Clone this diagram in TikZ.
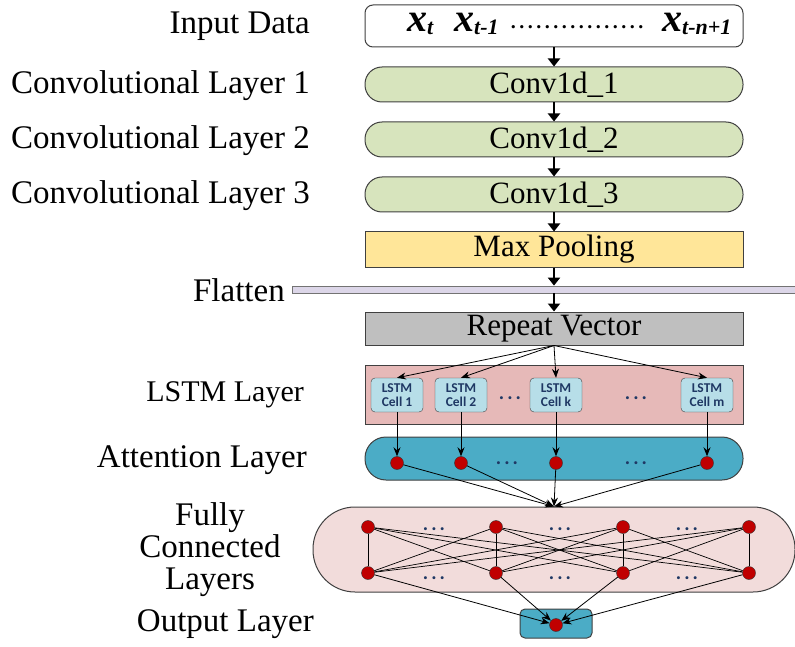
\documentclass[tikz,border=0pt]{standalone}
\usepackage{amsmath}
\usepackage{fontspec}
\setmainfont{Liberation Serif}
\newfontfamily\cellfont{Carlito}
\usetikzlibrary{arrows.meta,positioning}
\definecolor{boxline}{HTML}{404040}
\definecolor{convgreen}{HTML}{D7E4BD}
\definecolor{poolyellow}{HTML}{FFE699}
\definecolor{repeatgray}{HTML}{BFBFBF}
\definecolor{lstmpink}{HTML}{E6B9B8}
\definecolor{cellblue}{HTML}{B7DEE8}
\definecolor{cellnavy}{HTML}{1F3864}
\definecolor{attteal}{HTML}{4BACC6}
\definecolor{fcpink}{HTML}{F2DCDB}
\definecolor{neuronred}{HTML}{C00000}
\definecolor{flattenfill}{HTML}{DCD6E8}
\tikzset{
  layer/.style={draw=boxline, line width=1pt, minimum width=378pt, minimum height=35pt,
    inner sep=0pt, font=\fontsize{31}{33}\selectfont},
  layer pill/.style={layer, rounded corners=17pt},
  side label/.style={anchor=east, inner sep=0pt, font=\fontsize{33}{32}\selectfont},
  seq var/.style={anchor=base west, inner sep=0pt, font=\fontsize{40}{40}\selectfont\bfseries\itshape},
  cell/.style={draw=boxline, fill=cellblue, rounded corners=4pt, minimum width=52pt,
    minimum height=34pt, inner sep=0pt, align=center, text=cellnavy,
    font=\cellfont\bfseries\fontsize{13.5}{14}\selectfont},
  neuron/.style={circle, draw=black!80, fill=neuronred, minimum size=13pt, inner sep=0pt},
  gap dots/.style={inner sep=0pt, text=cellnavy, font=\cellfont\bfseries\fontsize{20}{20}\selectfont},
  flow/.style={-{Triangle[width=12pt,length=8pt]}, line width=2.5pt},
  link/.style={-{Stealth[length=9pt,width=7pt]}, line width=0.8pt},
  fc link/.style={line width=0.7pt},
}
\newcommand\gapdots{.\kern3pt.\kern3pt.}
\newcommand\seqsub[1]{\raisebox{-3pt}{\fontsize{22}{22}\selectfont #1}}
\begin{document}
\begin{tikzpicture}[x=1pt, y=-1pt]
    \useasboundingbox (0,0) rectangle (795,647);

    % ------- layers -------
    \node[layer, fill=white, rounded corners=8pt, minimum height=42pt] (input) at (554,26) {};
    \node[layer pill, fill=convgreen] (conv1) at (554,84.5)  {Conv1d\_1};
    \node[layer pill, fill=convgreen] (conv2) at (554,139.5) {Conv1d\_2};
    \node[layer pill, fill=convgreen] (conv3) at (554,194.5) {Conv1d\_3};
    \node[layer, fill=poolyellow] (pool) at (554,249.5) {Max Pooling};
    \node[draw=black!55, fill=flattenfill, line width=0.8pt, minimum width=503pt,
          minimum height=7pt, inner sep=0pt] (flatten) at (543.5,289.5) {};
    \node[layer, fill=repeatgray, minimum height=33pt] (repeat) at (554,328.5) {Repeat Vector};
    \node[layer, fill=lstmpink, minimum height=59pt] (lstm) at (554,394.5) {};
    \node[layer, fill=attteal, minimum height=43pt, rounded corners=21pt] (att) at (554,458.5) {};
    \node[layer, fill=fcpink, minimum width=482pt, minimum height=85pt, rounded corners=42pt] (fc) at (554,549.5) {};
    \node[draw=boxline, line width=1pt, fill=attteal, rounded corners=5pt,
          minimum width=72pt, minimum height=29pt] (outbox) at (556,623.5) {};

    % ------- input sequence -------
    \node[seq var] (xt)  at (407,32) {x\seqsub{t}};
    \node[seq var] (xt1) at (454,32) {x\seqsub{t-1}};
    \node[seq var] (xtn) at (662,32) {x\seqsub{t-n+1}};
    \node[inner sep=0pt, font=\fontsize{20}{20}\selectfont\bfseries] (xdots) at (577,27)
        {.\kern3.5pt.\kern3.5pt.\kern3.5pt.\kern3.5pt.\kern3.5pt.\kern3.5pt.\kern3.5pt.\kern3.5pt.\kern3.5pt.\kern3.5pt.\kern3.5pt.\kern3.5pt.\kern3.5pt.\kern3.5pt.\kern3.5pt.};

    % ------- lstm cells and neurons -------
    \foreach \x/\k [count=\i] in {397/1, 461/2, 556/k, 707/m}
        \node[cell] (c\i) at (\x,395) {LSTM\\Cell \k};
    \node[gap dots] (ldots1) at (510,398) {\gapdots};
    \node[gap dots] (ldots2) at (636,398) {\gapdots};

    \foreach \x [count=\i] in {397, 461, 556, 707}
        \node[neuron] (a\i) at (\x,463) {};
    \node[gap dots] (adots1) at (507,463) {\gapdots};
    \node[gap dots] (adots2) at (636,463) {\gapdots};

    \foreach \x [count=\i] in {368, 496, 623, 749} {
        \node[neuron] (t\i) at (\x,527) {};
        \node[neuron] (b\i) at (\x,573) {};
    }
    \foreach \x [count=\i] in {434, 560, 687} {
        \node[gap dots] (tdots\i) at (\x,529) {\gapdots};
        \node[gap dots] (bdots\i) at (\x,578) {\gapdots};
    }
    \node[neuron] (o) at (556,625) {};

    % ------- connections -------
    \draw[flow] (input) -- (conv1);
    \draw[flow] (conv1) -- (conv2);
    \draw[flow] (conv2) -- (conv3);
    \draw[flow] (conv3) -- (pool);
    \draw[flow] (pool) -- (pool |- flatten.north);
    \draw[flow] (flatten.south -| repeat) -- (repeat);

    \foreach \i in {1,...,4} {
        \draw[link] (repeat.south) -- (c\i.north);
        \draw[link] (c\i) -- (a\i);
        \draw[link] (a\i) -- (fc.north);
        \draw[link] (b\i) -- (o);
        \foreach \j in {1,...,4}
            \draw[fc link] (t\i) -- (b\j);
    }

    % ------- labels -------
    \node[side label] (lab-in)    at (310,26)  {Input Data};
    \node[side label] (lab-conv1) at (310,86)  {Convolutional Layer 1};
    \node[side label] (lab-conv2) at (310,141) {Convolutional Layer 2};
    \node[side label] (lab-conv3) at (310,196) {Convolutional Layer 3};
    \node[side label] (lab-flat)  at (285,290) {Flatten};
    \node[side label, font=\fontsize{30}{32}\selectfont] (lab-lstm) at (304,395) {LSTM Layer};
    \node[side label] (lab-att)   at (307,460) {Attention Layer};
    \node[side label, anchor=center, align=center] (lab-fc) at (210,550) {Fully\\Connected\\Layers};
    \node[side label] (lab-out)   at (314,624) {Output Layer};
\end{tikzpicture}
\end{document}
